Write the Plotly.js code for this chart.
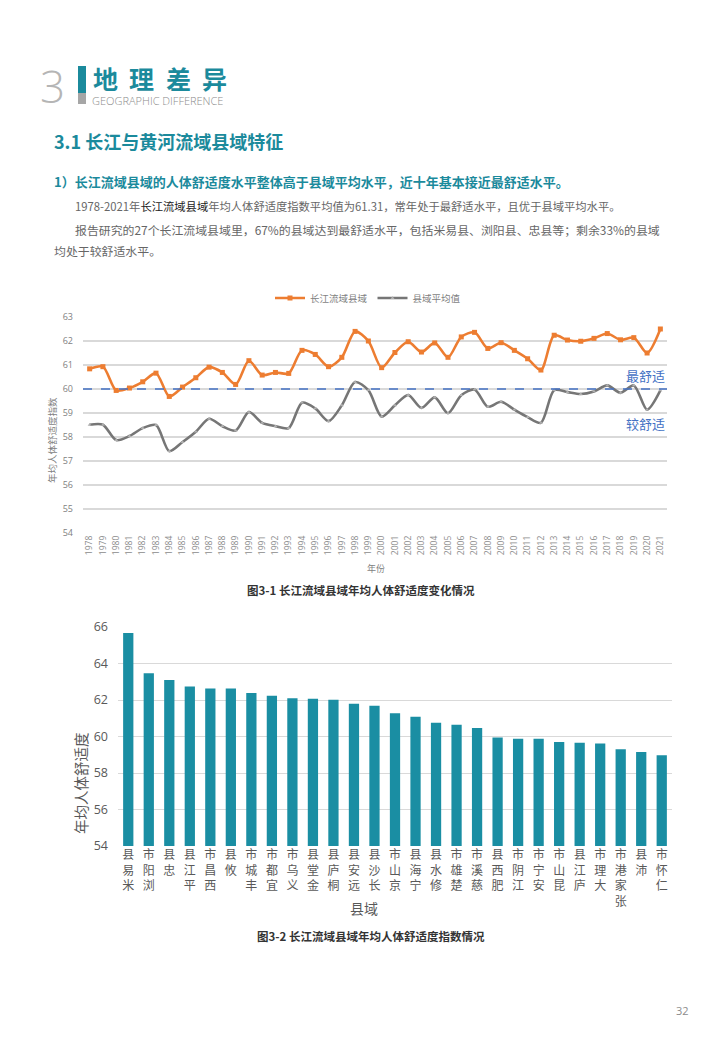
<!DOCTYPE html>
<html><head><meta charset="utf-8">
<script src="https://cdn.plot.ly/plotly-3.0.1.min.js"></script>
<style>html,body{margin:0;padding:0;background:#fff}#chart{width:720px;height:1040px}</style>
</head><body><div id="chart"></div>
<script>
const years = ['1978','1979','1980','1981','1982','1983','1984','1985','1986','1987','1988','1989','1990','1991','1992','1993','1994','1995','1996','1997','1998','1999','2000','2001','2002','2003','2004','2005','2006','2007','2008','2009','2010','2011','2012','2013','2014','2015','2016','2017','2018','2019','2020','2021'];
const yangtzeValues = [60.84,60.93,59.94,60.04,60.30,60.66,59.69,60.08,60.47,60.91,60.69,60.19,61.18,60.58,60.69,60.65,61.61,61.44,60.93,61.32,62.40,62.00,60.89,61.52,61.97,61.54,61.92,61.32,62.17,62.36,61.69,61.93,61.61,61.26,60.79,62.24,62.04,61.99,62.11,62.31,62.05,62.14,61.50,62.50];
const averageValues = [58.51,58.51,57.87,58.04,58.37,58.50,57.41,57.79,58.22,58.76,58.45,58.27,59.04,58.59,58.45,58.37,59.43,59.19,58.66,59.32,60.29,59.95,58.85,59.32,59.75,59.21,59.65,58.99,59.74,59.98,59.26,59.47,59.14,58.83,58.59,59.95,59.87,59.79,59.90,60.15,59.84,60.15,59.14,59.94];
const comfortLevel = 60;
const counties = ['米易县','浏阳市','忠县','平江县','西昌市','攸县','丰城市','宜都市','义乌市','金堂县','桐庐县','远安县','长沙县','京山市','宁海县','修水县','楚雄市','慈溪市','肥西县','江阴市','安宁市','昆山市','庐江县','大理市','张家港市','沛县','仁怀市'];
const countyValues = [65.67,63.47,63.10,62.74,62.63,62.63,62.38,62.23,62.10,62.07,62.01,61.79,61.68,61.28,61.08,60.75,60.64,60.46,59.95,59.88,59.88,59.70,59.66,59.62,59.30,59.15,58.97];

const W = 720, H = 1040;
const px = x => x / W;
const py = y => 1 - y / H;
const CJK = 'Noto Sans CJK SC, Noto Sans, sans-serif';
const TEAL = '#1b8a9c';

const vertical = s => Array.from(s).reverse().join('<br>');

const traces = [
  {
    x: years, y: yangtzeValues, type: 'scatter', mode: 'lines+markers', name: '长江流域县域',
    line: {color: '#ed7d31', width: 2.6, shape: 'spline', smoothing: 0.8},
    marker: {symbol: 'square', size: 5, color: '#ed7d31'},
    xaxis: 'x', yaxis: 'y'
  },
  {
    x: years, y: averageValues, type: 'scatter', mode: 'lines+markers', name: '县域平均值',
    line: {color: '#767676', width: 2.6, shape: 'spline', smoothing: 0.8},
    marker: {symbol: 'triangle-up', size: 3.5, color: '#b0b0b0'},
    xaxis: 'x', yaxis: 'y'
  },
  {
    x: counties, y: countyValues, type: 'bar', showlegend: false,
    marker: {color: '#1a8ea3'},
    xaxis: 'x2', yaxis: 'y2'
  }
];

const ann = (x, y, text, size, color, opts = {}) => Object.assign({
  xref: 'paper', yref: 'paper', x: px(x), y: py(y), text: text, showarrow: false,
  xanchor: 'left', yanchor: 'middle',
  font: {family: CJK, size: size, color: color}
}, opts);

const annotations = [
  ann(38, 86, '3', 44, '#b5b5b5', {font: {family: 'Open Sans, Lato, sans-serif', size: 44, color: '#b5b5b5', weight: 300}}),
  ann(91, 78, '地', 25, TEAL, {font: {family: CJK, size: 25, color: TEAL, weight: 'bold'}}),
  ann(127, 78, '理', 25, TEAL, {font: {family: CJK, size: 25, color: TEAL, weight: 'bold'}}),
  ann(164, 78, '差', 25, TEAL, {font: {family: CJK, size: 25, color: TEAL, weight: 'bold'}}),
  ann(200, 78, '异', 25, TEAL, {font: {family: CJK, size: 25, color: TEAL, weight: 'bold'}}),
  ann(90, 101, 'GEOGRAPHIC DIFFERENCE', 11, '#8c8c8c', {font: {family: 'Open Sans, sans-serif', size: 11, color: '#8c8c8c', weight: 300}}),
  ann(52, 141, '3.1 长江与黄河流域县域特征', 18, TEAL, {font: {family: CJK, size: 18, color: TEAL, weight: 'bold'}}),
  ann(52, 181, '1）长江流域县域的人体舒适度水平整体高于县域平均水平，近十年基本接近最舒适水平。', 13, TEAL, {font: {family: CJK, size: 13, color: TEAL, weight: 'bold'}}),
  ann(73, 206, '1978-2021年<span style="color:#222">长江流域县域</span>年均人体舒适度指数平均值为61.31，常年处于最舒适水平，且优于县域平均水平。', 11.3, '#666'),
  ann(73, 229, '报告研究的27个长江流域县域里，67%的县域达到最舒适水平，包括米易县、浏阳县、忠县等；剩余33%的县域', 11.9, '#666'),
  ann(52, 250, '均处于较舒适水平。', 11.9, '#666'),
  // chart 1 labels
  ann(52, 440, '年均人体舒适度指数', 9.5, '#7f7f7f', {xanchor: 'center', textangle: -90}),
  ann(376, 568, '年份', 9, '#7f7f7f', {xanchor: 'center'}),
  ann(667, 375, '最舒适', 13, '#4472c4', {xanchor: 'right'}),
  ann(667, 423, '较舒适', 13, '#4472c4', {xanchor: 'right'}),
  ann(361, 590, '图3-1 长江流域县域年均人体舒适度变化情况', 11.5, '#333', {xanchor: 'center', font: {family: CJK, size: 11.5, color: '#333', weight: 'bold'}}),
  // chart 2 labels
  ann(80, 783, '年均人体舒适度', 14.5, '#595959', {xanchor: 'center', textangle: -90}),
  ann(364, 908, '县域', 14, '#595959', {xanchor: 'center'}),
  ann(371, 936, '图3-2 长江流域县域年均人体舒适度指数情况', 11.5, '#333', {xanchor: 'center', font: {family: CJK, size: 11.5, color: '#333', weight: 'bold'}}),
  ann(691, 1010, '32', 11, '#8c8c8c', {xanchor: 'right', font: {family: 'Open Sans, sans-serif', size: 11, color: '#8c8c8c'}})
];

const shapes = [
  {type: 'rect', xref: 'paper', yref: 'paper', x0: px(78), x1: px(86), y0: py(66), y1: py(93), fillcolor: TEAL, line: {width: 0}},
  {type: 'rect', xref: 'paper', yref: 'paper', x0: px(78), x1: px(86), y0: py(93), y1: py(104), fillcolor: '#a6a6a6', line: {width: 0}},
  {type: 'line', xref: 'x domain', yref: 'y', x0: 0, x1: 1, y0: comfortLevel, y1: comfortLevel, line: {color: '#4472c4', width: 1.3, dash: 'dash'}}
];

const layout = {
  width: W, height: H,
  margin: {l: 0, r: 0, t: 0, b: 0},
  paper_bgcolor: '#fff', plot_bgcolor: '#fff',
  font: {family: CJK, color: '#7f7f7f'},
  showlegend: true,
  legend: {orientation: 'h', x: px(368), xanchor: 'center', y: py(298), yanchor: 'middle',
    font: {family: CJK, size: 9.5, color: '#7f7f7f'}, itemwidth: 30, bgcolor: 'rgba(0,0,0,0)'},
  xaxis: {domain: [px(83), px(667)], anchor: 'y', type: 'category', range: [-0.5, 43.5],
    tickangle: -90, tickfont: {family: 'Open Sans, sans-serif', size: 8.5, color: '#8c8c8c'},
    showgrid: false, showline: false, ticks: '', zeroline: false},
  yaxis: {domain: [py(533), py(317)], anchor: 'x', range: [54, 63], dtick: 1,
    gridcolor: '#d9d9d9', gridwidth: 1.3, zeroline: false, showline: false, ticks: '',
    ticklabelstandoff: 9, tickfont: {family: 'Open Sans, sans-serif', size: 9, color: '#7f7f7f'}},
  xaxis2: {domain: [px(118), px(672)], anchor: 'y2', type: 'category',
    tickvals: counties, ticktext: counties.map(vertical), tickangle: 0,
    tickfont: {family: CJK, size: 12, color: '#595959'}, showgrid: false, ticks: '', showline: false},
  yaxis2: {domain: [py(846), py(627)], anchor: 'x2', range: [54, 66], dtick: 2,
    gridcolor: '#d9d9d9', gridwidth: 1, zeroline: false, ticks: '', showline: false,
    ticklabelstandoff: 9, tickfont: {family: 'Open Sans, sans-serif', size: 12.5, color: '#595959'}},
  bargap: 0.5,
  annotations: annotations,
  shapes: shapes
};

Plotly.newPlot('chart', traces, layout, {staticPlot: true, displayModeBar: false});
</script>
</body></html>
